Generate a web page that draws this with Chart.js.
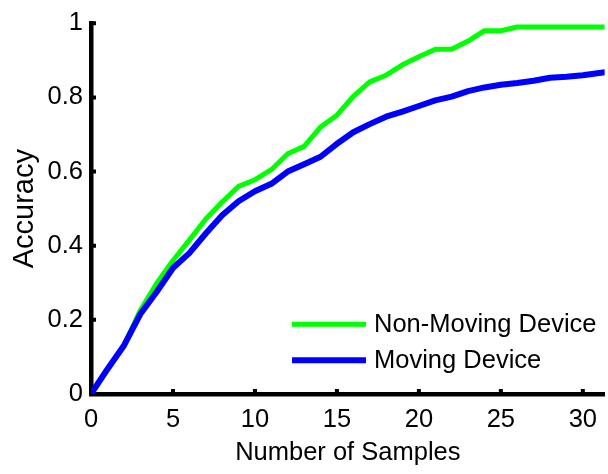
<!DOCTYPE html>
<html>
<head>
<meta charset="utf-8">
<title>Accuracy vs. Number of Samples</title>
<script src="https://cdn.jsdelivr.net/npm/chart.js@4.4.1/dist/chart.umd.min.js"></script>
<style>
  html, body { margin: 0; padding: 0; background: #fff; }
  #chart { display: block; }
</style>
</head>
<body>
<canvas id="chart" width="608" height="474"></canvas>
<script>
// number of samples along the x axis
const samples = [0, 1, 2, 3, 4, 5, 6, 7, 8, 9, 10, 11, 12, 13, 14, 15, 16,
  17, 18, 19, 20, 21, 22, 23, 24, 25, 26, 27, 28, 29, 30, 31, 32];

const nonMovingAcc = [0, 0.065, 0.13, 0.225, 0.298, 0.36, 0.415, 0.472, 0.518, 0.56,
  0.578, 0.605, 0.648, 0.668, 0.72, 0.752, 0.803, 0.842, 0.86, 0.888, 0.91, 0.93,
  0.93, 0.952, 0.98, 0.98, 0.99, 0.99, 0.99, 0.99, 0.99, 0.99, 0.99];

const movingAcc = [0, 0.067, 0.13, 0.215, 0.275, 0.34, 0.38, 0.433, 0.482, 0.52,
  0.547, 0.567, 0.6, 0.62, 0.64, 0.675, 0.706, 0.728, 0.748, 0.762, 0.777, 0.792,
  0.802, 0.817, 0.827, 0.834, 0.839, 0.845, 0.853, 0.856, 0.86, 0.866, 0.872];

const xTickValues = [0, 5, 10, 15, 20, 25, 30];
const yTickValues = [0, 0.2, 0.4, 0.6, 0.8, 1];
const yTickLabels = ['0', '0.2', '0.4', '0.6', '0.8', '1'];

const FONT = '"Liberation Sans", Arial, Helvetica, sans-serif';
const GREEN = 'rgb(0,255,0)';
const BLUE = 'rgb(0,0,255)';

// small inward tick marks on both axes
const innerTicks = {
  id: 'innerTicks',
  afterDatasetsDraw(chart) {
    const { ctx, chartArea: a, scales: { x, y } } = chart;
    ctx.save();
    ctx.strokeStyle = '#000';
    ctx.lineWidth = 4;
    ctx.beginPath();
    xTickValues.forEach(v => {
      if (v === 0) return;
      const px = x.getPixelForValue(v);
      ctx.moveTo(px, a.bottom);
      ctx.lineTo(px, a.bottom - 5);
    });
    yTickValues.forEach(v => {
      if (v === 0) return;
      const py = y.getPixelForValue(v);
      ctx.moveTo(a.left, py);
      ctx.lineTo(a.left + 5, py);
    });
    ctx.stroke();
    ctx.restore();
  }
};

// legend in the lower right of the plot, entries listed in legendOrder
const legendOrder = [1, 0];
const lineLegend = {
  id: 'lineLegend',
  afterDraw(chart) {
    const { ctx, chartArea: a } = chart;
    const x0 = a.left + 201;
    const y0 = a.top + 301;
    ctx.save();
    ctx.font = '25.5px ' + FONT;
    ctx.textBaseline = 'middle';
    ctx.fillStyle = '#000';
    legendOrder.forEach((di, i) => {
      const ds = chart.data.datasets[di];
      const yy = y0 + i * 36;
      ctx.strokeStyle = ds.borderColor;
      ctx.lineWidth = ds.borderWidth;
      ctx.beginPath();
      ctx.moveTo(x0, yy);
      ctx.lineTo(x0 + 74, yy);
      ctx.stroke();
      ctx.fillText(ds.label, x0 + 82, yy + 1);
    });
    ctx.restore();
  }
};

new Chart(document.getElementById('chart'), {
  type: 'line',
  data: {
    labels: samples,
    datasets: [
      {
        label: 'Moving Device',
        data: movingAcc,
        borderColor: BLUE,
        borderWidth: 6,
        order: 0
      },
      {
        label: 'Non-Moving Device',
        data: nonMovingAcc,
        borderColor: GREEN,
        borderWidth: 5,
        order: 1
      }
    ]
  },
  options: {
    responsive: false,
    animation: false,
    layout: { padding: { top: 19, right: 0, left: 0, bottom: 0 } },
    elements: {
      point: { radius: 0 },
      line: { tension: 0, borderJoinStyle: 'round', fill: false }
    },
    plugins: {
      legend: { display: false },
      tooltip: { enabled: false }
    },
    scales: {
      x: {
        type: 'linear',
        min: 0,
        max: 31.33,
        afterBuildTicks: s => { s.ticks = xTickValues.map(v => ({ value: v })); },
        afterFit: s => { s.height = 80; },
        grid: { display: false, drawTicks: false },
        border: { display: true, color: '#000', width: 4.5 },
        ticks: {
          color: '#000',
          font: { family: FONT, size: 25.5 },
          padding: 11,
          maxRotation: 0,
          autoSkip: false
        },
        title: {
          display: true,
          text: 'Number of Samples',
          color: '#000',
          font: { family: FONT, size: 25.5 },
          padding: { top: 0, bottom: 6 }
        }
      },
      y: {
        min: 0,
        max: 1,
        afterBuildTicks: s => { s.ticks = yTickValues.map(v => ({ value: v })); },
        afterFit: s => { s.width = 91; },
        grid: { display: false, drawTicks: false },
        border: { display: true, color: '#000', width: 4.5 },
        ticks: {
          color: '#000',
          font: { family: FONT, size: 25.5 },
          padding: 8,
          callback: (v, i) => yTickLabels[i]
        },
        title: {
          display: true,
          text: 'Accuracy',
          color: '#000',
          font: { family: FONT, size: 29 },
          padding: { top: 8, bottom: 0 }
        }
      }
    }
  },
  plugins: [innerTicks, lineLegend]
});
</script>
</body>
</html>
